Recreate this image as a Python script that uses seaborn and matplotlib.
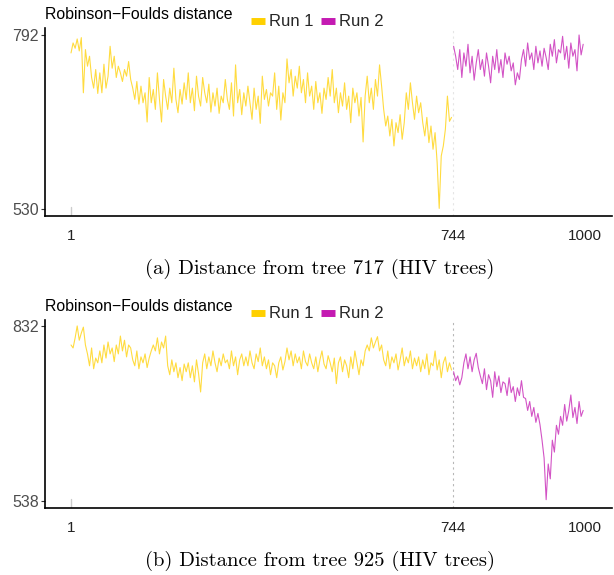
import matplotlib
matplotlib.use("Agg")
import matplotlib.pyplot as plt
from matplotlib.lines import Line2D
import numpy as np
import pandas as pd
import seaborn as sns

# tree indices (every 4th tree)
TREES_RUN1 = np.arange(1, 745, 4)
TREES_RUN2 = np.arange(745, 1001, 4)
RUN_LABELS = ["Run 1", "Run 2"]
X_TICKS = [1, 744, 1000]

# (a) distance from tree 717
A_RUN1 = [
    765, 780, 772, 786, 768, 788, 705, 770,
    745, 760, 728, 712, 740, 704,
    735, 705, 748, 712, 730,
    775,
    742, 760, 728, 745, 735, 722, 740, 730, 752, 725,
    712, 695, 722, 688, 715, 690, 705, 661,
    728, 690, 710, 680, 735, 695, 661, 725,
    700, 680, 712, 690, 742, 695, 675, 710, 688, 720,
    695, 735, 690, 712, 678, 730, 700, 685, 728, 705,
    690, 718, 676, 705, 685, 712, 674, 700, 690, 725, 695,
    680, 720, 670, 747, 690, 710, 672, 705, 685, 715,
    690, 665, 712, 680, 700, 659, 730, 695, 710, 685, 705,
    700, 735, 680, 715, 664, 705, 690,
    756, 720, 740, 700, 730, 712, 745, 705, 725, 690, 735,
    700, 715, 680, 722, 690, 705, 674, 712, 695, 728, 700, 740,
    690, 712, 675, 705, 685, 720, 680, 700, 660, 712, 690, 705, 670, 698,
    631,
    700, 730, 690, 712, 680, 725, 700, 747, 715,
    680, 655, 670, 640, 665, 625, 660, 645, 672, 635, 660,
    705, 680, 720, 690, 665, 700, 675, 690,
    660, 640, 668, 630, 655, 620, 645,
    600, 531,
    610, 625, 650, 700, 662, 668,
]
A_RUN2 = [
    775, 760, 740, 770, 728, 765, 745, 778, 735, 760, 724, 750, 770, 740,
    755, 730, 765, 745, 720, 760, 740, 770, 735, 755, 728, 765, 748, 760, 738,
    750, 717, 735, 725, 755,
    770, 745, 780, 755, 765, 740, 775, 750, 768, 745, 772, 758, 740,
    778, 760, 785, 750, 770, 765, 790, 755, 775, 742, 780, 760, 770, 738, 792, 762, 778,
]
A_YTICKS = [530, 792]

# (b) distance from tree 925
B_RUN1 = [
    800, 795, 812, 832, 808, 820, 830, 800,
    785, 765, 795, 760, 778, 770,
    790, 770, 800, 778, 805, 785, 795, 772,
    800, 785, 815, 790, 808, 780, 800, 795,
    775, 765, 790, 760, 780, 770, 785, 762, 778, 790,
    800, 790, 812, 785, 805, 795, 815,
    765, 750, 775, 755, 770, 745, 762, 740, 768,
    755, 770, 745, 765, 738, 775, 752, 721,
    770, 785, 760, 780, 765, 790, 770, 755, 778, 765, 785, 770,
    775, 760, 790, 765, 780, 750, 775, 785, 765,
    780, 765, 790, 770, 760, 785, 772, 795, 765, 780,
    760, 775, 750, 770, 765, 745, 770, 780, 758, 772,
    795, 775, 790, 765, 785, 770, 780, 760, 790, 772, 765,
    785, 770, 760, 780, 755, 775, 790, 768, 760, 782, 770, 755, 778,
    735, 770, 780, 755, 775, 765, 745, 780, 760, 790, 770, 750, 775, 765, 790,
    800, 790, 812, 795, 805, 814, 790, 800,
    775, 765, 790, 760, 780, 770, 785, 758, 775, 795, 765, 780, 770, 790, 760, 778,
    765, 780, 755, 775, 760, 785, 750, 770, 765, 790, 758, 775, 745, 770, 780, 755, 770, 758,
]
B_RUN2 = [
    755, 740, 748, 733, 745,
    770, 785, 760, 780, 755, 775, 786, 762,
    748, 735, 760, 725, 750, 740, 712, 755, 730, 748, 720, 738,
    735, 715, 745, 720, 730, 705, 728, 715, 740, 712,
    710, 690, 705, 680, 695, 670, 685, 666,
    640, 610,
    540, 600, 575,
    640, 620, 665, 650,
    680, 665, 700, 672, 690, 716, 678, 695, 668, 705, 680, 690,
]
B_YTICKS = [538, 832]

CAPTIONS = [
    "(a) Distance from tree 717 (HIV trees)",
    "(b) Distance from tree 925 (HIV trees)",
]
COLORS = {"Run 1": "#FFD000", "Run 2": "#C41AB2"}


def make_frame(run1, run2):
    return pd.DataFrame({
        "tree": np.concatenate([TREES_RUN1, TREES_RUN2]),
        "distance": run1 + run2,
        "run": [RUN_LABELS[0]] * len(run1) + [RUN_LABELS[1]] * len(run2),
    })


sns.set_theme(style="white")
plt.rcParams["font.family"] = ["Liberation Sans", "DejaVu Sans"]

fig = plt.figure(figsize=(6.14, 5.75), dpi=100)
panels = [
    (make_frame(A_RUN1, A_RUN2), A_YTICKS, (519.5, 802.5), [0.0733, 0.6243, 0.9234, 0.327], 0.25),
    (make_frame(B_RUN1, B_RUN2), B_YTICKS, (526, 842), [0.0733, 0.1165, 0.9234, 0.327], 0.7),
]

for k, (df, yticks, ylim, rect, vline_alpha) in enumerate(panels):
    ax = fig.add_axes(rect)
    ax.axvline(744, color="#999999", lw=0.8, ls=(0, (2, 3)), alpha=vline_alpha, zorder=0)
    ax.axvline(1, ymin=0, ymax=0.05, color="#cccccc", lw=1, zorder=0)
    sns.lineplot(data=df, x="tree", y="distance", hue="run", palette=COLORS,
                 estimator=None, lw=0.8, alpha=0.75, legend=False, ax=ax)
    ax.set_xlim(-49.6, 1053)
    ax.set_ylim(*ylim)
    ax.set_xticks(X_TICKS)
    ax.set_xticklabels([str(t) for t in X_TICKS])
    ax.set_yticks(yticks)
    ax.set_yticklabels([str(t) for t in yticks])
    ax.tick_params(axis="x", length=0, pad=9, labelsize=11, labelcolor="#222222")
    ax.tick_params(axis="y", length=3, width=0.8, color="#333333", pad=1.5,
                   labelsize=11.5, labelcolor="#4D4D4D", left=True)
    ax.set_xlabel("")
    ax.set_ylabel("")
    for side in ["top", "right"]:
        ax.spines[side].set_visible(False)
    for side in ["left", "bottom"]:
        ax.spines[side].set_color("black")
        ax.spines[side].set_linewidth(1.2)

    ax.text(0.0, 1.07, "Robinson\u2212Foulds distance", transform=ax.transAxes,
            ha="left", va="center", fontsize=11.4, color="black")
    handles = [Line2D([0], [0], color=COLORS[r], lw=5, solid_capstyle="butt")
               for r in RUN_LABELS]
    ax.legend(handles, RUN_LABELS, loc="center", bbox_to_anchor=(0.48, 1.032),
              ncol=2, frameon=False, fontsize=12, handlelength=0.85,
              handletextpad=0.25, columnspacing=0.45, borderaxespad=0)
    ax.text(0.485, -0.28, CAPTIONS[k], transform=ax.transAxes, ha="center",
            va="center", fontsize=14.8, family="cmr10", color="black")

fig.savefig("out.png", dpi=100)
